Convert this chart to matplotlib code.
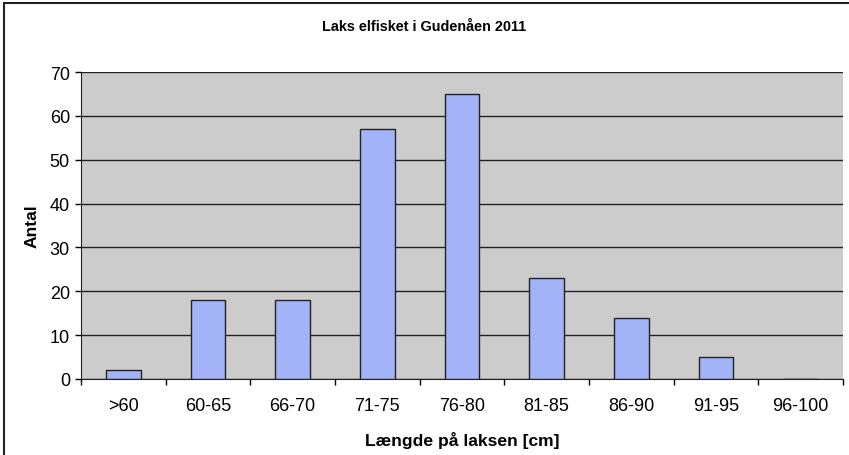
import matplotlib.pyplot as plt
from matplotlib.patches import Rectangle

categories = ['>60', '60-65', '66-70', '71-75', '76-80', '81-85', '86-90', '91-95', '96-100']
antal = [2, 18, 18, 57, 65, 23, 14, 5, 0]

plt.rcParams['font.family'] = ['Liberation Sans', 'DejaVu Sans']

fig = plt.figure(figsize=(8.49, 4.56), dpi=100)
W, H = 849, 456
ax = fig.add_axes([81 / W, 1 - 380 / H, (843 - 81) / W, (380 - 73) / H])
ax.set_facecolor('#cccccc')

x = range(len(categories))
ax.bar(x, antal, width=0.41, color='#a3b3f8', edgecolor='#222222', linewidth=1, zorder=3)

ax.set_xlim(-0.5, len(categories) - 0.5)
ax.set_ylim(0, 70)
ax.set_yticks(range(0, 71, 10))
ax.set_xticks([i + 0.5 for i in range(-1, len(categories))], minor=False)
ax.set_xticklabels([])
ax.set_xticks(list(x), minor=True)
ax.set_xticklabels(categories, minor=True, fontsize=13)
ax.tick_params(axis='x', which='minor', length=0, pad=13)
ax.tick_params(axis='x', which='major', length=4, direction='out', width=1)
ax.tick_params(axis='y', length=4, direction='out', width=1, labelsize=13, pad=4)
ax.grid(axis='y', color='#222222', linewidth=1, zorder=1)

for side in ['top', 'right']:
    ax.spines[side].set_visible(False)
ax.spines['left'].set_color('#222222')
ax.spines['bottom'].set_color('#222222')

ax.set_ylabel('Antal', fontsize=12.6, fontweight='bold', labelpad=7)
ax.set_xlabel('Længde på laksen [cm]', fontsize=12.6, fontweight='bold', labelpad=12)
fig.text(0.5, 1 - 27 / H, 'Laks elfisket i Gudenåen 2011', ha='center', va='center',
         fontsize=10.4, fontweight='bold')

# outer chart border, only left and top edges fall inside the image
fig.patches.append(Rectangle((4 / W, -20 / H), (870 - 4) / W, (452 + 20) / H,
                             transform=fig.transFigure, fill=False,
                             edgecolor='#222222', linewidth=1.5))

fig.savefig('out.png', dpi=100)
